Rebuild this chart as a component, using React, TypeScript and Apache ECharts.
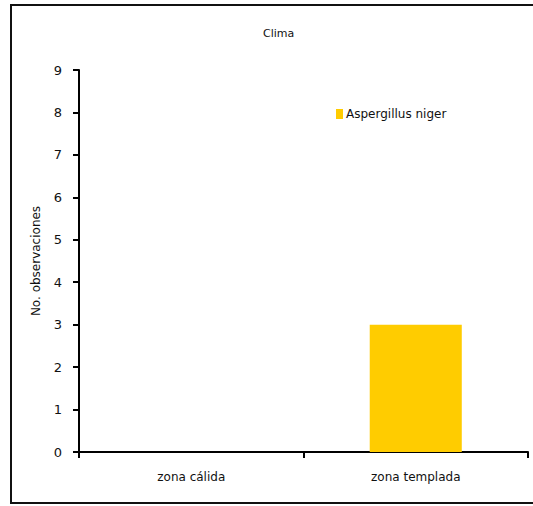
import React, { useEffect, useRef } from "react";
import * as echarts from "echarts";

const categories = ["zona cálida", "zona templada"];
const seriesName = "Aspergillus niger";
const values = [0, 3];
const titleText = "Clima";
const yAxisName = "No. observaciones";

export default function App() {
  const ref = useRef<HTMLDivElement>(null);
  useEffect(() => {
    if (!ref.current) return;
    const chart = echarts.init(ref.current, null, { renderer: "svg" });
    const font = "DejaVu Sans";
    chart.setOption({
      animation: false,
      backgroundColor: "#ffffff",
      title: {
        text: titleText,
        left: 258,
        top: 23,
        textStyle: { fontFamily: font, fontSize: 11, fontWeight: "normal", color: "#111" },
      },
      legend: {
        data: [seriesName],
        left: 331,
        top: 103,
        icon: "rect",
        itemWidth: 7,
        itemHeight: 10,
        itemGap: 4,
        textStyle: { fontFamily: font, fontSize: 12, color: "#111", padding: [0, 0, 0, -2] },
      },
      grid: { left: 79, top: 70, width: 449, height: 382 },
      xAxis: {
        type: "category",
        data: categories,
        axisLine: { lineStyle: { color: "#000", width: 2 } },
        axisTick: { show: true, alignWithLabel: false, length: 6, lineStyle: { color: "#000", width: 2 } },
        axisLabel: { margin: 19, fontFamily: font, fontSize: 12, color: "#111" },
        splitLine: { show: false },
      },
      yAxis: {
        type: "value",
        min: 0,
        max: 9,
        interval: 1,
        name: yAxisName,
        nameLocation: "middle",
        nameRotate: 90,
        nameGap: 37,
        nameTextStyle: { fontFamily: font, fontSize: 12, color: "#111" },
        axisLine: { show: true, lineStyle: { color: "#000", width: 2 } },
        axisTick: { show: true, length: 6, lineStyle: { color: "#000", width: 2 } },
        axisLabel: { margin: 17, fontFamily: font, fontSize: 13, color: "#111" },
        splitLine: { show: false },
      },
      series: [
        {
          type: "bar",
          name: seriesName,
          data: values,
          barWidth: "41%",
          itemStyle: { color: "#FFCC00" },
        },
      ],
      graphic: [
        {
          type: "rect",
          shape: { x: 11, y: 5, width: 540, height: 498 },
          style: { fill: "none", stroke: "#111", lineWidth: 2 },
          silent: true,
        },
      ],
    });
    return () => chart.dispose();
  }, []);
  return (
    <div
      ref={ref}
      style={{ position: "absolute", left: 0, top: 0, width: 533, height: 506 }}
    />
  );
}
